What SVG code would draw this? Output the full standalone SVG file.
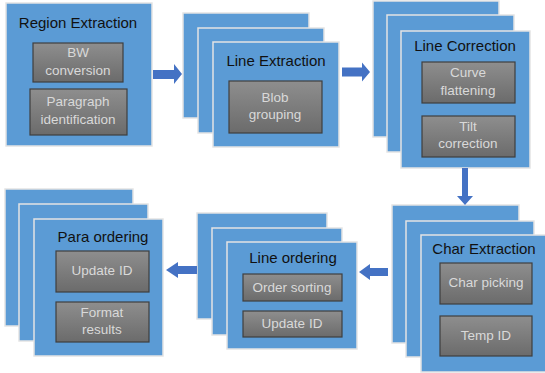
<svg xmlns="http://www.w3.org/2000/svg" width="545" height="373" viewBox="0 0 545 373">
<defs>
<linearGradient id="g" x1="0" y1="0" x2="0" y2="1">
<stop offset="0" stop-color="#8e8e8e"/>
<stop offset="1" stop-color="#6b6b6b"/>
</linearGradient>
<style>
.b{fill:#5b9bd5;stroke:#e4e4e4;stroke-width:1.5}
.i{fill:url(#g);stroke:#3f3f3f;stroke-width:1.2}
.t{font-family:"Liberation Sans",Arial,sans-serif;font-size:15px;fill:#111;text-anchor:middle}
.s{font-family:"Liberation Sans",Arial,sans-serif;font-size:13.5px;fill:#d9d9d9;text-anchor:middle}
.a{fill:#4472c4}
</style>
</defs>
<rect width="545" height="373" fill="#fff"/>

<g id="region-extraction">
<rect class="b" x="6" y="3" width="146" height="143"/>
<text class="t" x="78" y="28">Region Extraction</text>
<rect class="i" x="33" y="43" width="90" height="39"/>
<text class="s" x="78" y="57">BW</text>
<text class="s" x="78" y="75">conversion</text>
<rect class="i" x="30" y="89" width="97" height="46"/>
<text class="s" x="78" y="106">Paragraph</text>
<text class="s" x="78" y="124">identification</text>
</g>

<g id="line-extraction">
<rect class="b" x="183" y="13" width="126" height="105"/>
<rect class="b" x="198" y="28" width="126" height="105"/>
<rect class="b" x="213" y="42" width="126" height="105"/>
<text class="t" x="276" y="66">Line Extraction</text>
<rect class="i" x="229" y="81" width="93" height="52"/>
<text class="s" x="275" y="102">Blob</text>
<text class="s" x="275" y="119">grouping</text>
</g>

<g id="line-correction">
<rect class="b" x="373" y="1" width="126" height="136"/>
<rect class="b" x="387" y="15" width="127" height="137"/>
<rect class="b" x="401" y="31" width="129" height="137"/>
<text class="t" x="465" y="51">Line Correction</text>
<rect class="i" x="422" y="62" width="93" height="41"/>
<text class="s" x="468" y="77">Curve</text>
<text class="s" x="468" y="95">flattening</text>
<rect class="i" x="422" y="116" width="93" height="41"/>
<text class="s" x="468" y="131">Tilt</text>
<text class="s" x="468" y="148">correction</text>
</g>

<g id="char-extraction">
<rect class="b" x="392" y="205" width="127" height="138"/>
<rect class="b" x="406" y="221" width="128" height="136"/>
<rect class="b" x="421" y="235" width="126" height="137"/>
<text class="t" x="484" y="254">Char Extraction</text>
<rect class="i" x="440" y="263" width="92" height="41"/>
<text class="s" x="486" y="287">Char picking</text>
<rect class="i" x="440" y="316" width="92" height="40"/>
<text class="s" x="486" y="340">Temp ID</text>
</g>

<g id="line-ordering">
<rect class="b" x="197" y="213" width="130" height="106"/>
<rect class="b" x="212" y="228" width="130" height="107"/>
<rect class="b" x="227" y="242" width="130" height="107"/>
<text class="t" x="293" y="263">Line ordering</text>
<rect class="i" x="243" y="274" width="99" height="27"/>
<text class="s" x="292" y="292">Order sorting</text>
<rect class="i" x="243" y="311" width="99" height="26"/>
<text class="s" x="292" y="328">Update ID</text>
</g>

<g id="para-ordering">
<rect class="b" x="5" y="189" width="128" height="137"/>
<rect class="b" x="19" y="204" width="129" height="137"/>
<rect class="b" x="34" y="219" width="129" height="137"/>
<text class="t" x="103" y="242">Para ordering</text>
<rect class="i" x="56" y="251" width="93" height="41"/>
<text class="s" x="102" y="275">Update ID</text>
<rect class="i" x="56" y="302" width="93" height="40"/>
<text class="s" x="102" y="317">Format</text>
<text class="s" x="102" y="334">results</text>
</g>

<g id="connectors">
<polygon class="a" points="153,70 174,70 174,64 182,74 174,84 174,79 153,79"/>
<polygon class="a" points="342,67.5 362,67.5 362,62.5 370,72 362,81.5 362,76.5 342,76.5"/>
<polygon class="a" points="462,168 468,168 468,196 473,196 465,205 457,196 462,196"/>
<polygon class="a" points="388,268 370,268 370,264 359,272 370,280 370,276 388,276"/>
<polygon class="a" points="197,266 178,266 178,262 166,270 178,278 178,274 197,274"/>
</g>
</svg>
